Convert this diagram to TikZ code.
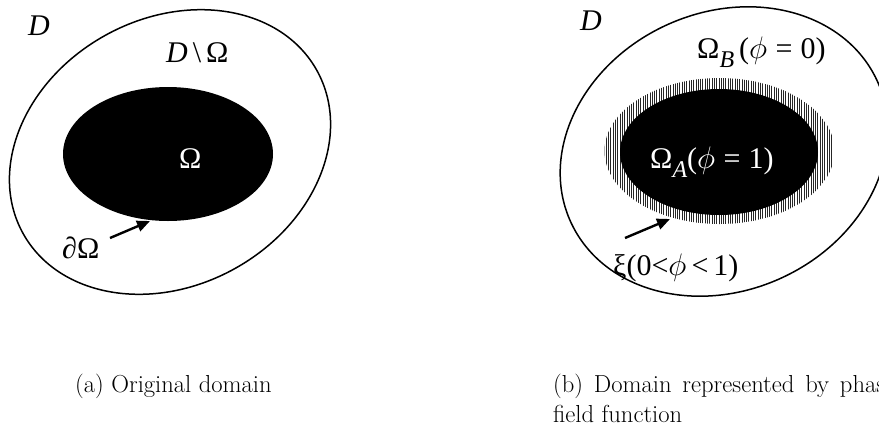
\documentclass[tikz,border=0pt]{standalone}
\usepackage{fontspec}
\newfontfamily\tnr{Liberation Serif}
\usetikzlibrary{arrows.meta}
\newcommand\myphi{\scalebox{1.25}{$\phi$}}
\begin{document}
\begin{tikzpicture}[x=1pt,y=-1pt,
  lbl/.style={font={\tnr\fontsize{30}{35}\selectfont}, inner sep=0pt, anchor=base west},
  captext/.style={font={\fontsize{24.6}{30}\selectfont}, inner sep=0pt, anchor=base west},
  outline/.style={line width=1.5pt},
  pointer/.style={line width=2.4pt, -{Triangle[length=13pt,width=11pt]}},
  hatchline/.style={line width=0.9pt, black!85}]
\useasboundingbox (0,0) rectangle (879,429);
\clip (0,0) rectangle (879,429);

% ---------- (a) ----------
\draw[outline] (170,152) ellipse [x radius=168pt, y radius=133.4pt, rotate=29];
\fill (168,154) ellipse [x radius=105pt, y radius=67pt];

\node[lbl] (Da) at (28,35) {\itshape D};
\node[lbl] (DOm) at (166,62) {{\itshape D}\,\textbackslash\,Ω};
\node[lbl, text=white] (Om) at (179,168) {Ω};
\node[lbl] (dOm) at (62,258) {∂Ω};
\coordinate (p1) at (110,238);
\coordinate (q1) at (150,221);
\draw[pointer] (p1) -- (q1);

\node[captext] (capa) at (75,392) {(a) Original domain};

% ---------- (b) ----------
\draw[outline] (724,151.5) ellipse [x radius=168.7pt, y radius=138.9pt, rotate=25];

\begin{scope}
  \clip (719.5,151) ellipse [x radius=115pt, y radius=73pt];
  \foreach \x in {604,606.3,...,836} \draw[hatchline] (\x,70) -- (\x,232);
\end{scope}
\fill (719,152) ellipse [x radius=99pt, y radius=63pt];

\node[lbl] (Db) at (580,30) {\itshape D};
\node[lbl] (OmB) at (697,58) {Ω\raisebox{-0.3em}{\fontsize{24}{24}\selectfont\itshape B}\,(\myphi\;=\;0)};
\node[lbl, text=white] (OmA) at (650,168) {Ω\raisebox{-0.32em}{\fontsize{24}{24}\selectfont\itshape A}(\myphi\;=\;1)};
\node[lbl] (xi) at (613,275) {ξ(0<\myphi\,<\,1)};
\coordinate (p2) at (625,238);
\coordinate (q2) at (670,219);
\draw[pointer] (p2) -- (q2);

\node[captext, text width=342pt, align=justify] (capb) at (553,392) {(b) Domain represented by phase field function};
\end{tikzpicture}
\end{document}
